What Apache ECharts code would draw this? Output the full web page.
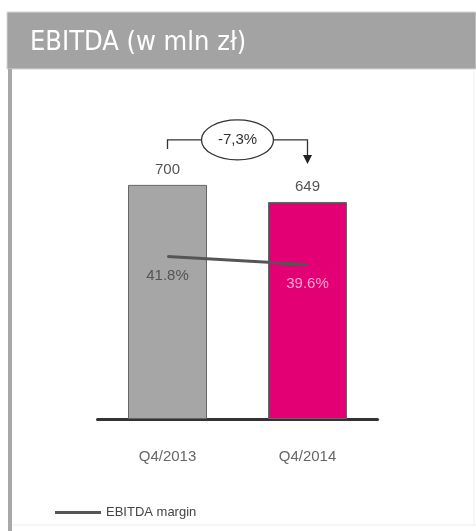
<!DOCTYPE html>
<html>
<head>
<meta charset="utf-8">
<script src="https://cdn.jsdelivr.net/npm/echarts@6/dist/echarts.min.js"></script>
<style>
  html, body { margin: 0; padding: 0; background: #fff; }
  #chart { width: 476px; height: 531px; }
</style>
</head>
<body>
<div id="chart"></div>
<script>
const titleText = 'EBITDA (w mln zł)';
const categories = ['Q4/2013', 'Q4/2014'];
const ebitdaValues = [700, 649];
const marginValues = [41.8, 39.6];
const changeLabel = '-7,3%';
const marginName = 'EBITDA margin';

const barColors = ['#a6a6a6', '#e20074'];
const marginLabelColors = ['#555555', '#f7a6cf'];
const textFont = "'Liberation Sans', Arial, sans-serif";

let elm = document.getElementById('chart');
let myChart = echarts.init(elm);

const options = {
  animation: false,
  backgroundColor: '#ffffff',
  textStyle: { fontFamily: textFont },
  grid: { left: 97.5, right: 98.5, top: 118, bottom: 112 },
  legend: {
    data: [{ name: marginName, icon: 'rect' }],
    left: 50,
    top: 501,
    itemWidth: 46,
    itemHeight: 3,
    itemGap: 5,
    textStyle: { fontSize: 13, color: '#444', fontFamily: textFont }
  },
  xAxis: {
    type: 'category',
    data: categories,
    axisLine: { lineStyle: { color: '#333', width: 3 } },
    axisTick: { show: false },
    axisLabel: { margin: 30, fontSize: 15, color: '#666' }
  },
  yAxis: [
    { type: 'value', min: 0, max: 900, show: false },
    { type: 'value', min: -3, max: 80, show: false }
  ],
  series: [
    {
      name: 'EBITDA',
      type: 'bar',
      barWidth: 79,
      data: ebitdaValues.map((v, i) => ({
        value: v,
        itemStyle: { color: barColors[i], borderColor: '#666', borderWidth: 1 }
      })),
      label: {
        show: true,
        position: 'top',
        distance: 8,
        fontSize: 15,
        color: '#555'
      }
    },
    {
      name: marginName,
      type: 'line',
      yAxisIndex: 1,
      symbol: 'circle',
      symbolSize: 1,
      showSymbol: true,
      lineStyle: { color: '#555', width: 3 },
      itemStyle: { color: '#555' },
      data: marginValues.map((v, i) => ({
        value: v,
        label: { color: marginLabelColors[i] }
      })),
      label: {
        show: true,
        position: 'bottom',
        distance: 11,
        fontSize: 15,
        formatter: p => p.value.toFixed(1) + '%'
      },
      z: 5
    }
  ]
};

myChart.setOption(options);

// frame + change annotation, placed from the chart's own scales
const p1 = myChart.convertToPixel({ seriesIndex: 0 }, [0, ebitdaValues[0]]);
const p2 = myChart.convertToPixel({ seriesIndex: 0 }, [1, ebitdaValues[1]]);
const midX = (p1[0] + p2[0]) / 2;
const yLine = p1[1] - 45;
const rx = 36, ry = 20;

myChart.setOption({
  graphic: [
    { type: 'rect', shape: { x: 7, y: 12, width: 469, height: 57 },
      style: { fill: '#a3a3a3', stroke: '#d6d6d6', lineWidth: 1 }, silent: true },
    { type: 'text', x: 30, y: 43,
      style: { text: titleText, fill: '#fff', fontSize: 27, fontFamily: "'DejaVu Sans Condensed', Roboto, sans-serif", verticalAlign: 'middle' } },
    { type: 'rect', shape: { x: 8, y: 69, width: 4, height: 462 }, style: { fill: '#a8a8a8' }, silent: true },
    { type: 'line', shape: { x1: 12, y1: 525, x2: 476, y2: 525 }, style: { stroke: '#ececec', lineWidth: 1 }, silent: true },
    { type: 'line', shape: { x1: 474, y1: 69, x2: 474, y2: 525 }, style: { stroke: '#f0f0f0', lineWidth: 1 }, silent: true },
    { type: 'polyline', shape: { points: [[p1[0], p1[1] - 36], [p1[0], yLine], [midX - rx, yLine]] },
      style: { stroke: '#333', lineWidth: 1.3, fill: null } },
    { type: 'polyline', shape: { points: [[midX + rx, yLine], [p2[0], yLine], [p2[0], p2[1] - 46]] },
      style: { stroke: '#333', lineWidth: 1.3, fill: null } },
    { type: 'polygon', shape: { points: [[p2[0] - 4.5, p2[1] - 47], [p2[0] + 4.5, p2[1] - 47], [p2[0], p2[1] - 38]] },
      style: { fill: '#222' } },
    { type: 'ellipse', shape: { cx: midX, cy: yLine, rx: rx, ry: ry },
      style: { fill: '#fff', stroke: '#333', lineWidth: 1.3 } },
    { type: 'text', x: midX, y: yLine,
      style: { text: changeLabel, fill: '#333', fontSize: 15, fontFamily: textFont, align: 'center', verticalAlign: 'middle' } }
  ]
});
</script>
</body>
</html>
